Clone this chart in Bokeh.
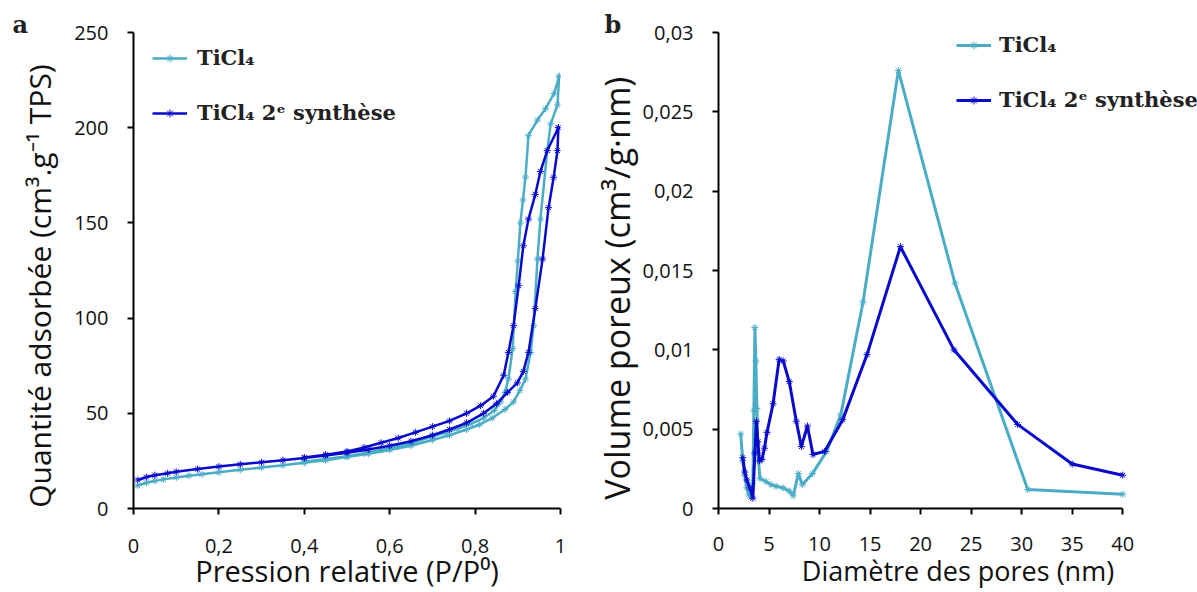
from bokeh.plotting import figure
from bokeh.layouts import row
from bokeh.models import FixedTicker, CustomJSTickFormatter, Legend, LegendItem
from bokeh.embed import file_html
from bokeh.resources import INLINE

# ---------------- data: panel a (isotherms) ----------------
ticl4_ads_p = [0.01, 0.03, 0.05, 0.07, 0.10, 0.13, 0.16, 0.20, 0.25, 0.30, 0.35, 0.40, 0.45,
               0.50, 0.55, 0.60, 0.65, 0.70, 0.74, 0.78, 0.81, 0.84, 0.87, 0.89, 0.905,
               0.918, 0.93, 0.937, 0.946, 0.953, 0.969, 0.977, 0.993, 0.997]
ticl4_ads_v = [12.0, 13.5, 14.5, 15.3, 16.3, 17.2, 18.0, 19.0, 20.3, 21.5, 22.7, 24.0, 25.3,
               27.0, 28.7, 30.7, 33.0, 36.0, 38.5, 41.5, 44.0, 47.5, 52.0, 56.0, 62.0,
               68.0, 82.0, 96.0, 131.0, 152.0, 188.0, 202.0, 212.0, 227.0]
ticl4_des_p = [0.997, 0.985, 0.965, 0.946, 0.925, 0.918, 0.912, 0.906, 0.900, 0.895, 0.888,
               0.878, 0.870, 0.860, 0.845, 0.820, 0.790, 0.760, 0.730, 0.700, 0.660, 0.620,
               0.580, 0.540, 0.500, 0.450, 0.400]
ticl4_des_v = [227.0, 218.0, 210.0, 204.0, 196.0, 174.0, 162.0, 150.0, 130.0, 114.0, 84.0,
               68.0, 61.0, 56.0, 51.5, 47.5, 44.5, 42.0, 39.8, 37.8, 35.0, 32.7,
               30.7, 29.0, 27.5, 26.0, 24.5]

synth2_ads_p = [0.01, 0.03, 0.05, 0.08, 0.10, 0.15, 0.20, 0.25, 0.30, 0.35, 0.40, 0.45, 0.50,
                0.55, 0.60, 0.65, 0.70, 0.74, 0.78, 0.82, 0.85, 0.876, 0.899, 0.913, 0.925,
                0.941, 0.958, 0.972, 0.984, 0.993, 0.995]
synth2_ads_v = [15.0, 16.5, 17.5, 18.5, 19.3, 20.7, 22.0, 23.2, 24.3, 25.4, 26.5, 27.8, 29.3,
                31.0, 33.0, 35.3, 38.5, 41.5, 45.0, 50.0, 55.0, 61.0, 66.0, 72.0, 82.0,
                105.0, 131.0, 158.0, 174.0, 188.0, 200.0]
synth2_des_p = [0.995, 0.969, 0.953, 0.941, 0.925, 0.913, 0.902, 0.890, 0.878, 0.867, 0.843,
                0.813, 0.780, 0.740, 0.700, 0.660, 0.620, 0.580, 0.540, 0.500, 0.450, 0.400]
synth2_des_v = [200.0, 188.0, 177.0, 165.0, 152.0, 138.0, 117.0, 96.0, 82.0, 70.0, 59.0,
                54.0, 50.0, 46.0, 43.0, 40.0, 37.0, 34.5, 32.0, 30.0, 28.3, 26.8]

# ---------------- data: panel b (pore size distribution) ----------------
ticl4_d = [2.2, 2.4, 2.6, 2.8, 3.0, 3.2, 3.4, 3.5, 3.6, 3.7, 3.8, 3.9, 4.1, 4.7, 5.2, 5.7,
           6.4, 7.0, 7.4, 7.9, 8.3, 9.3, 10.7, 12.1, 14.3, 17.8, 23.4, 30.6, 40.0]
ticl4_dv = [0.0047, 0.0030, 0.0021, 0.0013, 0.0009, 0.0007, 0.0016, 0.0062, 0.0114, 0.0093,
            0.0063, 0.0035, 0.0019, 0.0017, 0.0015, 0.0014, 0.0013, 0.0011, 0.0008, 0.0022,
            0.0015, 0.0022, 0.0036, 0.0059, 0.0130, 0.0276, 0.0142, 0.0012, 0.0009]
synth2_d = [2.4, 2.6, 2.8, 3.1, 3.4, 3.6, 3.75, 3.9, 4.05, 4.3, 4.55, 4.8, 5.4, 6.0, 6.4,
            7.0, 7.7, 8.2, 8.8, 9.35, 10.5, 12.3, 14.7, 18.0, 23.3, 29.6, 35.0, 40.0]
synth2_dv = [0.0032, 0.0023, 0.0018, 0.0013, 0.00065, 0.0035, 0.0055, 0.0042, 0.0030, 0.0031,
             0.0038, 0.0048, 0.0066, 0.0094, 0.0093, 0.0080, 0.0055, 0.0039, 0.0052, 0.0034,
             0.0036, 0.0056, 0.0097, 0.0165, 0.0100, 0.0053, 0.0028, 0.0021]

labels = ["TiCl\u2084", "TiCl\u2084 2\u1d49 synth\u00e8se"]
colors = ["#4BACC6", "#0A0ACD"]

a_xticks = [0, 0.2, 0.4, 0.6, 0.8, 1.0]
a_yticks = [0, 50, 100, 150, 200, 250]
b_xticks = [0, 5, 10, 15, 20, 25, 30, 35, 40]
b_yticks = [0, 0.005, 0.01, 0.015, 0.02, 0.025, 0.03]

SANS = "Open Sans"
SERIF = "DejaVu Serif"
PAD = "\u00a0" * 4

fmt = CustomJSTickFormatter(code="return parseFloat(tick.toFixed(4)).toString().replace('.', ',');")


def style(p, letter, offset):
    p.outline_line_color = None
    p.xgrid.visible = False
    p.ygrid.visible = False
    for ax in (p.xaxis, p.yaxis):
        ax.axis_line_color = "black"
        ax.axis_line_width = 2
        ax.major_tick_line_color = "black"
        ax.major_tick_line_width = 2
        ax.major_tick_in = 0
        ax.major_tick_out = 6
        ax.minor_tick_line_color = None
        ax.major_label_text_font = SANS
        ax.major_label_text_font_size = "20px"
        ax.major_label_text_color = "#111111"
        ax.axis_label_text_font = SANS
        ax.axis_label_text_font_style = "normal"
        ax.axis_label_text_color = "#111111"
        ax.formatter = fmt
    p.yaxis.major_label_standoff = 19
    p.title.text = letter
    p.title.align = "left"
    p.title.offset = offset
    p.title.standoff = -13
    p.title.text_font = SERIF
    p.title.text_font_size = "24px"
    p.title.text_font_style = "bold"
    p.title.text_color = "#222222"


def legend(items, loc, standoff):
    return Legend(items=items, location=loc, margin=0, padding=0,
                  glyph_width=35, glyph_height=20, label_height=20, spacing=30,
                  label_standoff=standoff, label_text_font=SERIF, label_text_font_size="21px",
                  label_text_font_style="bold", label_text_color="#222222",
                  background_fill_alpha=0, border_line_color=None)


# ---------------- panel a ----------------
pa = figure(width=590, height=592, x_range=(0, 1), y_range=(0, 250),
            output_backend="svg", toolbar_location=None,
            min_border_left=133, min_border_right=30, min_border_top=32, min_border_bottom=83)
style(pa, "a", -121)
pa.xaxis.ticker = FixedTicker(ticks=a_xticks)
pa.yaxis.ticker = FixedTicker(ticks=a_yticks)
pa.xaxis.axis_label = "Pression relative (P/P\u2070)"
pa.yaxis.axis_label = "Quantit\u00e9 adsorb\u00e9e (cm\u00b3.g\u207b\u00b9 TPS)" + PAD
pa.xaxis.axis_label_text_font_size = "29px"
pa.yaxis.axis_label_text_font_size = "30px"
pa.xaxis.major_label_standoff = 24
pa.xaxis.axis_label_standoff = -5
pa.yaxis.axis_label_standoff = 11

items_a = []
for (ap, av, dp, dv), lab, col in zip(
        [(ticl4_ads_p, ticl4_ads_v, ticl4_des_p, ticl4_des_v),
         (synth2_ads_p, synth2_ads_v, synth2_des_p, synth2_des_v)], labels, colors):
    xs = ap + dp
    ys = av + dv
    r1 = pa.line(xs, ys, line_color=col, line_width=2.5)
    r2 = pa.scatter(xs, ys, marker="asterisk", size=7, line_color=col, line_width=1)
    items_a.append(LegendItem(label=lab, renderers=[r1, r2]))

pa.add_layout(legend(items_a, (19, 383), 10))

# ---------------- panel b ----------------
pb = figure(width=607, height=592, x_range=(0, 47.4), y_range=(0, 0.03),
            output_backend="svg", toolbar_location=None,
            min_border_left=127, min_border_right=0, min_border_top=32, min_border_bottom=83)
style(pb, "b", -114)
pb.xaxis.ticker = FixedTicker(ticks=b_xticks)
pb.yaxis.ticker = FixedTicker(ticks=b_yticks)
pb.xaxis.bounds = (0, 40)
pb.xaxis.axis_label = "Diam\u00e8tre des pores (nm)"
pb.yaxis.axis_label = "Volume poreux (cm\u00b3/g\u00b7nm)" + PAD
pb.xaxis.axis_label_text_font_size = "27px"
pb.yaxis.axis_label_text_font_size = "34px"
pb.xaxis.major_label_standoff = 22
pb.xaxis.axis_label_standoff = -2
pb.yaxis.axis_label_standoff = 0

items_b = []
for xs, ys, lab, col in zip([ticl4_d, synth2_d], [ticl4_dv, synth2_dv], labels, colors):
    r1 = pb.line(xs, ys, line_color=col, line_width=3)
    r2 = pb.scatter(xs, ys, marker="asterisk", size=7, line_color=col, line_width=1)
    items_b.append(LegendItem(label=lab, renderers=[r1, r2]))

pb.add_layout(legend(items_b, (238, 396), 8))

layout = row(pa, pb)
open("out.html", "w").write(file_html(layout, INLINE))
